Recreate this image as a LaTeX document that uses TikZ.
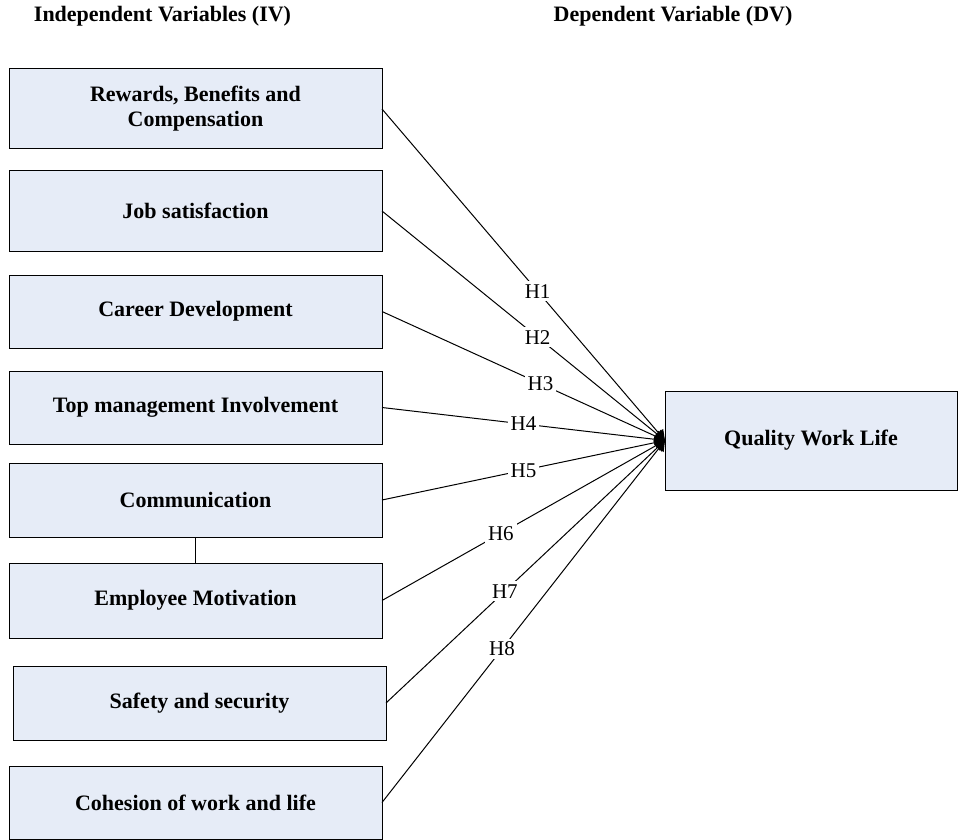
\documentclass[tikz,border=0pt]{standalone}
\usepackage{fontspec}
\setmainfont{Liberation Serif}
\usepackage{tikz}
\usetikzlibrary{shapes,arrows.meta}
\definecolor{boxfill}{HTML}{E6ECF7}
\tikzset{
  ivbox/.style={rectangle, draw=black, fill=boxfill, line width=0.5pt, minimum width=186.5pt,
    inner sep=0pt, outer sep=0pt, align=center, font=\fontsize{11}{12.5}\selectfont\bfseries},
  dvbox/.style={ivbox, minimum width=146pt, minimum height=49.5pt},
  headtext/.style={font=\fontsize{11}{12.5}\selectfont\bfseries},
  hyp/.style={line width=0.5pt, -{Triangle[length=5pt, width=6pt]}},
  hlabel/.style={fill=white, inner sep=1.5pt, font=\fontsize{10.5}{12}\selectfont}
}
\newcommand{\ivnode}[4] {\node at (#1) (#2) [ivbox, minimum height=#3] {#4};}
\newcommand{\hyparrow}[4] {\draw [hyp] (#1) -- node [pos=#4, hlabel] {#3} (#2) ;}

\begin{document}
\begin{tikzpicture}[x=0.5pt, y=-0.5pt]
\useasboundingbox (0,0) rectangle (959,840);

\node at (162.5,16) (ivhead) [headtext] {Independent Variables (IV)};
\node at (673,16) (dvhead) [headtext] {Dependent Variable (DV)};

\ivnode {195.5,109} {reward} {40pt} {Rewards, Benefits and\\Compensation};
\ivnode {195.5,211} {job} {40pt} {Job satisfaction};
\ivnode {195.5,311.5} {career} {36.5pt} {Career Development};
\ivnode {195.5,407.5} {topmgmt} {36.5pt} {Top management Involvement};
\ivnode {195.5,500} {comm} {37pt} {Communication};
\ivnode {195.5,600.5} {motiv} {37.5pt} {Employee Motivation};
\ivnode {199.5,703} {safety} {37pt} {Safety and security};
\ivnode {195.5,802.5} {cohesion} {36.5pt} {Cohesion of work and life};

\node at (811,440.5) (qwl) [dvbox] {Quality Work Life};

\draw [line width=0.5pt] (comm.south) -- (motiv.north);

\hyparrow {reward.east}{qwl.west}{H1}{0.55};
\hyparrow {job.east}{qwl.west}{H2}{0.55};
\hyparrow {career.east}{qwl.west}{H3}{0.56};
\hyparrow {topmgmt.east}{qwl.west}{H4}{0.5};
\hyparrow {comm.east}{qwl.west}{H5}{0.5};
\hyparrow {motiv.east}{qwl.west}{H6}{0.42};
\hyparrow {safety.east}{qwl.west}{H7}{0.426};
\hyparrow {cohesion.east}{qwl.west}{H8}{0.424};

\end{tikzpicture}
\end{document}
